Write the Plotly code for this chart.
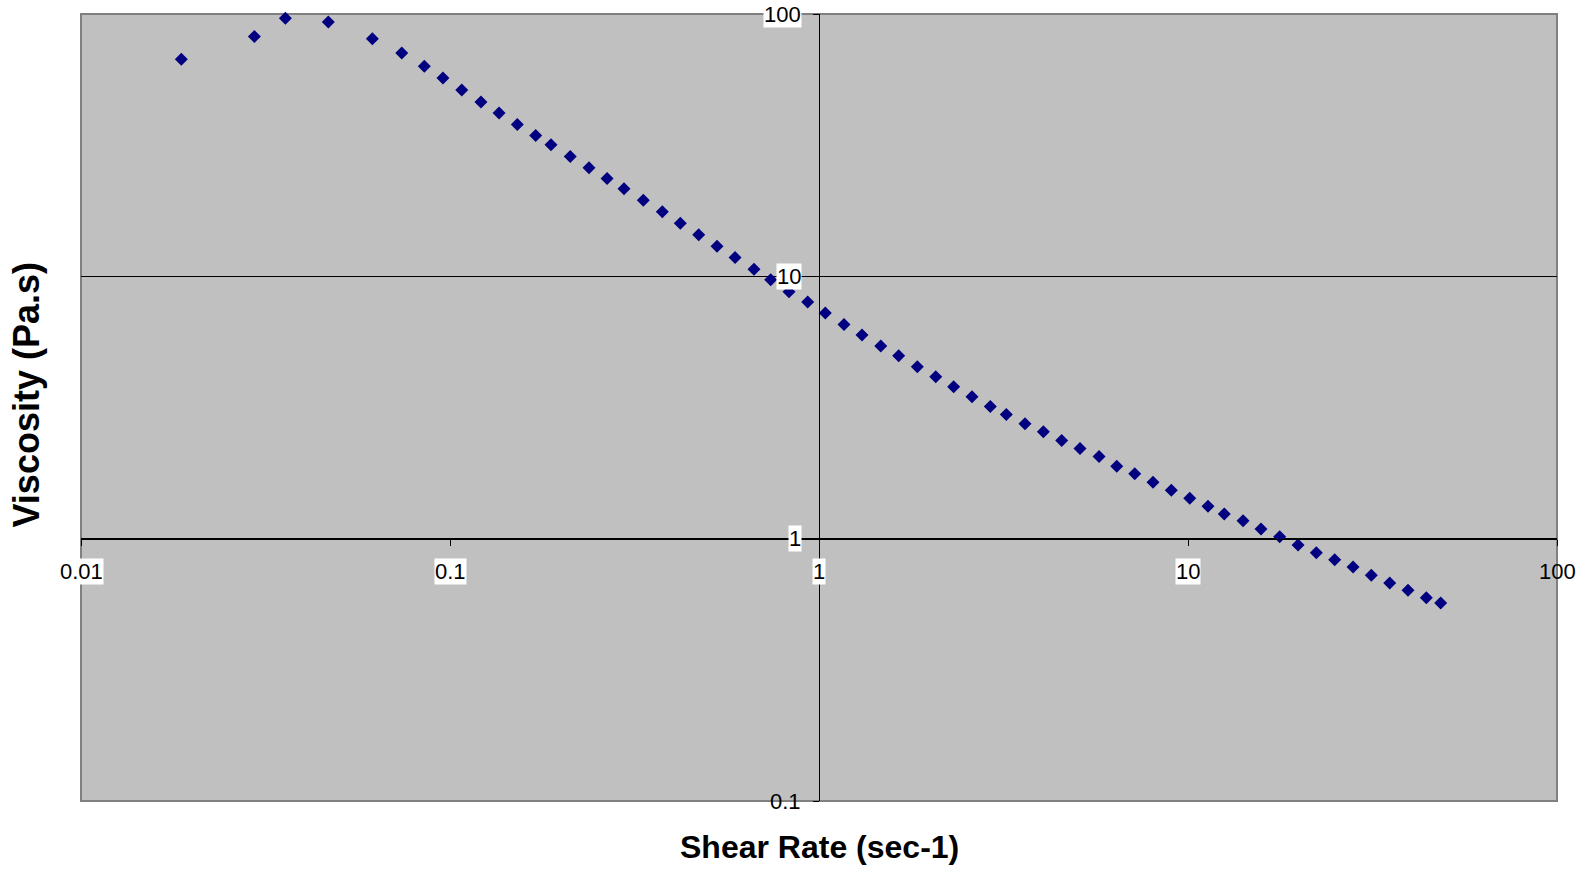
import numpy as np
import plotly.graph_objects as go

# Flow curve: shear rate (1/s) vs. viscosity (Pa.s)
shear_rate = [
    0.0187, 0.0295, 0.0358, 0.0468, 0.0616, 0.0740, 0.0852, 0.0957, 0.1076, 0.1213,
    0.1358, 0.1522, 0.1707, 0.1878, 0.2118, 0.2381, 0.2665, 0.2962, 0.3341, 0.3761,
    0.4209, 0.4721, 0.5292, 0.5922, 0.6665, 0.7397, 0.8292, 0.9320, 1.040, 1.169,
    1.308, 1.470, 1.644, 1.847, 2.072, 2.317, 2.598, 2.912, 3.218, 3.616,
    4.055, 4.547, 5.097, 5.740, 6.410, 7.172, 8.037, 9.010, 10.11, 11.33,
    12.54, 14.10, 15.77, 17.72, 19.87, 22.27, 24.98, 28.01, 31.39, 35.21,
    39.47, 44.25, 48.40,
]
viscosity = [
    67.15, 81.99, 96.3, 93.2, 80.56, 71.00, 63.15, 56.97, 51.28, 46.14,
    41.90, 37.93, 34.44, 31.73, 28.63, 25.93, 23.60, 21.58, 19.51, 17.61,
    15.93, 14.39, 13.02, 11.79, 10.63, 9.714, 8.741, 7.986, 7.251, 6.558,
    5.973, 5.425, 4.982, 4.522, 4.142, 3.793, 3.474, 3.190, 2.973, 2.741,
    2.555, 2.366, 2.206, 2.056, 1.889, 1.766, 1.642, 1.530, 1.427, 1.329,
    1.243, 1.171, 1.089, 1.018, 0.946, 0.884, 0.831, 0.780, 0.725, 0.677,
    0.636, 0.595, 0.568,
]

x_ticks = [0.01, 0.1, 1, 10, 100]
x_tick_labels = ["0.01", "0.1", "1", "10", "100"]
y_ticks = [0.1, 1, 10, 100]
y_tick_labels = ["0.1", "1", "10", "100"]

x_title = "Shear Rate (sec-1)"
y_title = "Viscosity (Pa.s)"

FONT = "Arial, Liberation Sans, sans-serif"
TICK_SIZE = 22

fig = go.Figure()
fig.add_trace(go.Scatter(
    x=shear_rate, y=viscosity, mode="markers",
    marker=dict(symbol="diamond", size=10, color="#000080", line=dict(width=0)),
    cliponaxis=False, showlegend=False,
))

x_range = [np.log10(x_ticks[0]), np.log10(x_ticks[-1])]
y_range = [np.log10(y_ticks[0]), np.log10(y_ticks[-1])]
# axes cross at x=1 and y=1
y_cross = (0 - y_range[0]) / (y_range[1] - y_range[0])
x_cross = (0 - x_range[0]) / (x_range[1] - x_range[0])

fig.update_layout(
    width=1589, height=869,
    margin=dict(l=81, r=32, t=14, b=68),
    paper_bgcolor="white", plot_bgcolor="#C0C0C0",
    font=dict(family=FONT, color="black"),
    xaxis=dict(
        type="log", range=x_range, domain=[0, 1],
        anchor="free", position=y_cross,
        showline=True, linecolor="black", linewidth=1,
        ticks="outside", ticklen=6, tickcolor="black", tickwidth=1,
        tickvals=x_ticks, showticklabels=False, showgrid=False, zeroline=False,
    ),
    yaxis=dict(
        type="log", range=y_range, domain=[0, 1],
        anchor="free", position=x_cross,
        showline=True, linecolor="black", linewidth=1,
        ticks="outside", ticklen=6, tickcolor="black", tickwidth=1,
        tickvals=y_ticks, showticklabels=False,
        showgrid=True, gridcolor="black", gridwidth=1, zeroline=False,
    ),
    shapes=[dict(
        type="rect", xref="paper", yref="paper", x0=0, x1=1, y0=0, y1=1,
        line=dict(color="#808080", width=2), fillcolor="rgba(0,0,0,0)",
        layer="between",
    )],
)

annotations = []
# x tick labels under the horizontal axis (white label boxes, except at the far edge)
for v, t in zip(x_ticks, x_tick_labels):
    annotations.append(dict(
        x=np.log10(v), xref="x", y=0, yref="y",
        text=t, showarrow=False, xanchor="center", yanchor="middle", yshift=-33,
        font=dict(size=TICK_SIZE, color="black", family=FONT),
        bgcolor="white" if v != x_ticks[-1] else "rgba(0,0,0,0)", borderpad=0,
    ))
# y tick labels left of the vertical axis
for v, t in zip(y_ticks, y_tick_labels):
    annotations.append(dict(
        x=0, xref="x", y=np.log10(v), yref="y",
        text=t, showarrow=False, xanchor="right", yanchor="middle", xshift=-17,
        font=dict(size=TICK_SIZE, color="black", family=FONT),
        bgcolor="white" if v != y_ticks[0] else "rgba(0,0,0,0)", borderpad=0,
    ))
# axis titles
annotations.append(dict(
    x=0.5, xref="paper", y=0, yref="paper", yanchor="middle", yshift=-46,
    text="<b>%s</b>" % x_title, showarrow=False,
    font=dict(size=32, color="black", family=FONT),
))
annotations.append(dict(
    x=0, xref="paper", y=0.5, yref="paper", xanchor="center", yanchor="middle",
    xshift=-55, yshift=12,
    text="<b>%s</b>" % y_title, showarrow=False, textangle=-90,
    font=dict(size=36, color="black", family=FONT),
))
fig.update_layout(annotations=annotations)

fig.write_html("out.html")
